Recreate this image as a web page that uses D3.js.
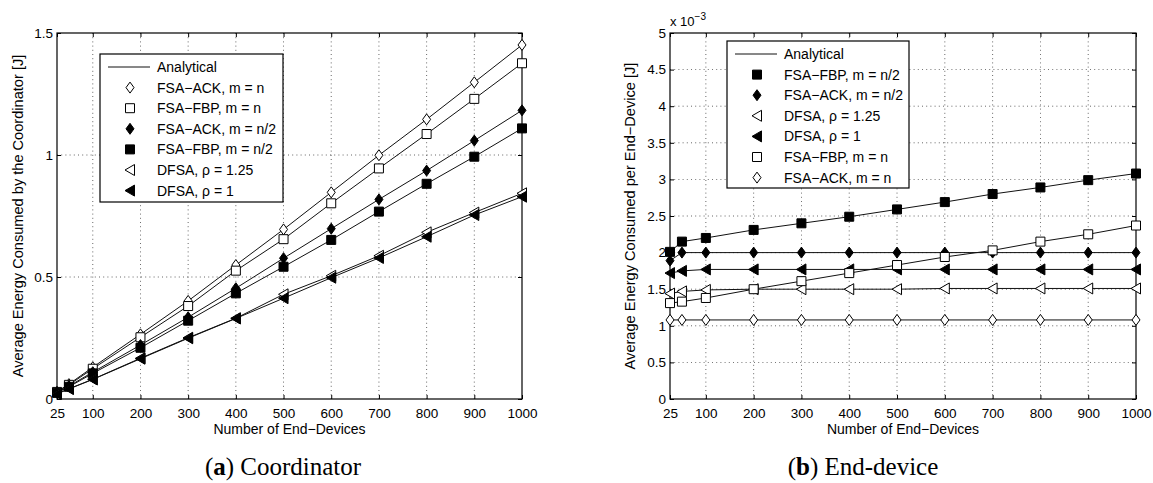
<!DOCTYPE html>
<html><head><meta charset="utf-8">
<script src="https://cdn.jsdelivr.net/npm/d3@7"></script>
<style>
body{margin:0;background:#fff;}
svg{display:block;font-family:"Liberation Sans",Arial,sans-serif;}
.tick text{font-size:13.5px;fill:#000;}
</style></head><body>
<svg id="c" width="1153" height="483"></svg>
<script>
// ---------- data ----------
const devices = [25,50,100,200,300,400,500,600,700,800,900,1000];
const xTickLabels = [25,100,200,300,400,500,600,700,800,900,1000];
const yTicksCoord = [0,0.5,1,1.5];
const yTicksDev = [0,0.5,1,1.5,2,2.5,3,3.5,4,4.5,5];

// (a) Coordinator, energy [J]
const coordAckN   = [0.030,0.061,0.130,0.265,0.402,0.549,0.695,0.847,0.999,1.146,1.298,1.451];
const coordFbpN   = [0.029,0.058,0.124,0.253,0.381,0.526,0.655,0.802,0.945,1.086,1.230,1.376];
const coordAckN2  = [0.027,0.053,0.110,0.221,0.335,0.454,0.577,0.698,0.818,0.936,1.059,1.183];
const coordFbpN2  = [0.025,0.050,0.105,0.210,0.321,0.433,0.542,0.652,0.768,0.882,0.993,1.109];
const coordDfsa125= [0.022,0.042,0.081,0.167,0.251,0.331,0.429,0.505,0.587,0.683,0.764,0.843];
const coordDfsa1  = [0.021,0.041,0.080,0.165,0.249,0.330,0.413,0.497,0.578,0.665,0.754,0.829];

// (b) End-device, energy [x 10^-3 J]
const devFbpN2   = [2.01,2.15,2.20,2.31,2.40,2.49,2.59,2.69,2.80,2.89,2.99,3.08];
const devAckN2   = [1.89,2.00,2.00,2.00,2.00,2.00,2.00,2.00,2.00,2.00,2.00,2.00];
const devDfsa125 = [1.44,1.47,1.49,1.50,1.50,1.50,1.50,1.51,1.51,1.51,1.51,1.51];
const devDfsa1   = [1.72,1.75,1.77,1.77,1.77,1.77,1.77,1.77,1.77,1.77,1.77,1.77];
const devFbpN    = [1.31,1.33,1.38,1.50,1.61,1.72,1.83,1.94,2.03,2.15,2.25,2.37];
const devAckN    = [1.08,1.08,1.08,1.08,1.08,1.08,1.08,1.08,1.08,1.08,1.08,1.08];

const coordSeries = [
  {name:"FSA\u2212ACK, m = n", sym:"diamond", fill:false, v:coordAckN},
  {name:"FSA\u2212FBP, m = n", sym:"square", fill:false, v:coordFbpN},
  {name:"FSA\u2212ACK, m = n/2", sym:"diamond", fill:true, v:coordAckN2},
  {name:"FSA\u2212FBP, m = n/2", sym:"square", fill:true, v:coordFbpN2},
  {name:"DFSA, \u03c1 = 1.25", sym:"tri", fill:false, v:coordDfsa125},
  {name:"DFSA, \u03c1 = 1", sym:"tri", fill:true, v:coordDfsa1}
];
const devSeries = [
  {name:"FSA\u2212FBP, m = n/2", sym:"square", fill:true, v:devFbpN2},
  {name:"FSA\u2212ACK, m = n/2", sym:"diamond", fill:true, v:devAckN2},
  {name:"DFSA, \u03c1 = 1.25", sym:"tri", fill:false, v:devDfsa125},
  {name:"DFSA, \u03c1 = 1", sym:"tri", fill:true, v:devDfsa1},
  {name:"FSA\u2212FBP, m = n", sym:"square", fill:false, v:devFbpN},
  {name:"FSA\u2212ACK, m = n", sym:"diamond", fill:false, v:devAckN}
];

const svg = d3.select("#c");

function symPath(sym){
  if(sym==="diamond") return "M0,-5.5L4,0L0,5.5L-4,0Z";
  if(sym==="square") return "M-4.5,-4.5H4.5V4.5H-4.5Z";
  return "M-5,0L4.5,-5.5L4.5,5.5Z"; // left-pointing triangle
}
function drawMarker(g,sym,fill,x,y){
  g.append("path").attr("d",symPath(sym)).attr("transform",`translate(${x},${y})`)
   .attr("fill",fill?"#000":"#fff").attr("stroke","#000").attr("stroke-width",1);
}

function panel(opt){
  const x = d3.scaleLinear().domain([25,1000]).range([opt.x0,opt.x1]);
  const y = d3.scaleLinear().domain(opt.yDomain).range([opt.y1,opt.y0]);
  const g = svg.append("g");
  // grid
  g.append("g").selectAll("line").data(xTickLabels.filter(d=>d>25&&d<1000)).join("line")
    .attr("x1",d=>x(d)).attr("x2",d=>x(d)).attr("y1",opt.y0).attr("y2",opt.y1)
    .attr("stroke","#000").attr("stroke-width",0.8).attr("stroke-dasharray","1,3.2").attr("opacity",0.75);
  g.append("g").selectAll("line").data(opt.yTicks.slice(1,-1)).join("line")
    .attr("y1",d=>y(d)).attr("y2",d=>y(d)).attr("x1",opt.x0).attr("x2",opt.x1)
    .attr("stroke","#000").attr("stroke-width",0.8).attr("stroke-dasharray","1,3.2").attr("opacity",0.75);
  // axes
  const ax = (gen,tx,ty)=>{const a=g.append("g").attr("transform",`translate(${tx},${ty})`).call(gen);
     a.select(".domain").remove(); a.selectAll(".tick line").attr("stroke","#000"); return a;};
  ax(d3.axisBottom(x).tickValues(xTickLabels).tickSize(-4).tickPadding(9).tickFormat(d3.format("d")),0,opt.y1);
  ax(d3.axisTop(x).tickValues(xTickLabels).tickSize(-4).tickFormat(""),0,opt.y0);
  ax(d3.axisLeft(y).tickValues(opt.yTicks).tickSize(-4).tickPadding(4).tickFormat(d=>String(d)),opt.x0,0);
  ax(d3.axisRight(y).tickValues(opt.yTicks).tickSize(-4).tickFormat(""),opt.x1,0);
  g.append("rect").attr("x",opt.x0).attr("y",opt.y0).attr("width",opt.x1-opt.x0).attr("height",opt.y1-opt.y0)
    .attr("fill","none").attr("stroke","#000").attr("stroke-width",1.2);
  // series
  const line = d3.line().x((d,i)=>x(devices[i])).y(d=>y(d));
  opt.series.forEach(s=>{
    g.append("path").datum(s.v).attr("d",line).attr("fill","none").attr("stroke","#111").attr("stroke-width",1);
  });
  opt.series.forEach(s=>{
    s.v.forEach((v,i)=>drawMarker(g,s.sym,s.fill,x(devices[i]),y(v)));
  });
  // labels
  g.append("text").attr("x",(opt.x0+opt.x1)/2).attr("y",434).attr("text-anchor","middle")
    .attr("font-size",14).text("Number of End\u2212Devices");
  g.append("text").attr("transform",`translate(${opt.ylx},${(opt.y0+opt.y1)/2}) rotate(-90)`)
    .attr("text-anchor","middle").attr("font-size",14.6).text(opt.ylabel);
  // legend
  const L = opt.legend;
  g.append("rect").attr("x",L.x).attr("y",L.y).attr("width",L.w).attr("height",L.h)
    .attr("fill","#fff").attr("stroke","#000").attr("stroke-width",1.2);
  const rows = [{name:"Analytical",line:true}].concat(opt.series);
  rows.forEach((r,i)=>{
    const cy = L.y+13+i*20.6;
    if(r.line){
      g.append("line").attr("x1",L.x+8).attr("x2",L.x+50).attr("y1",cy).attr("y2",cy)
        .attr("stroke","#111").attr("stroke-width",1);
    } else drawMarker(g,r.sym,r.fill,L.x+30,cy);
    g.append("text").attr("x",L.x+57).attr("y",cy+5).attr("font-size",14).text(r.name);
  });
  return {x,y,g};
}

panel({x0:57,x1:522,y0:33,y1:399,yDomain:[0,1.5],yTicks:yTicksCoord,series:coordSeries,
  ylabel:"Average Energy Consumed by the Coordinator [J]",ylx:23,
  legend:{x:100,y:54,w:183,h:148}});
panel({x0:670,x1:1136,y0:33,y1:399,yDomain:[0,5],yTicks:yTicksDev,series:devSeries,
  ylabel:"Average Energy Consumed per End\u2212Device [J]",ylx:635,
  legend:{x:727,y:41,w:182,h:147}});

// exponent label
const ex = svg.append("text").attr("x",670).attr("y",26).attr("font-size",13);
ex.append("tspan").text("x 10");
ex.append("tspan").attr("dy",-6).attr("font-size",10).text("\u22123");

// captions
function caption(cx,letter,rest){
  const t = svg.append("text").attr("x",cx).attr("y",475).attr("text-anchor","middle")
    .attr("font-family","'Liberation Serif','DejaVu Serif',serif").attr("font-size",25);
  t.append("tspan").text("(");
  t.append("tspan").attr("font-weight","bold").text(letter);
  t.append("tspan").text(") "+rest);
}
caption(283,"a","Coordinator");
caption(863,"b","End-device");
</script></body></html>
